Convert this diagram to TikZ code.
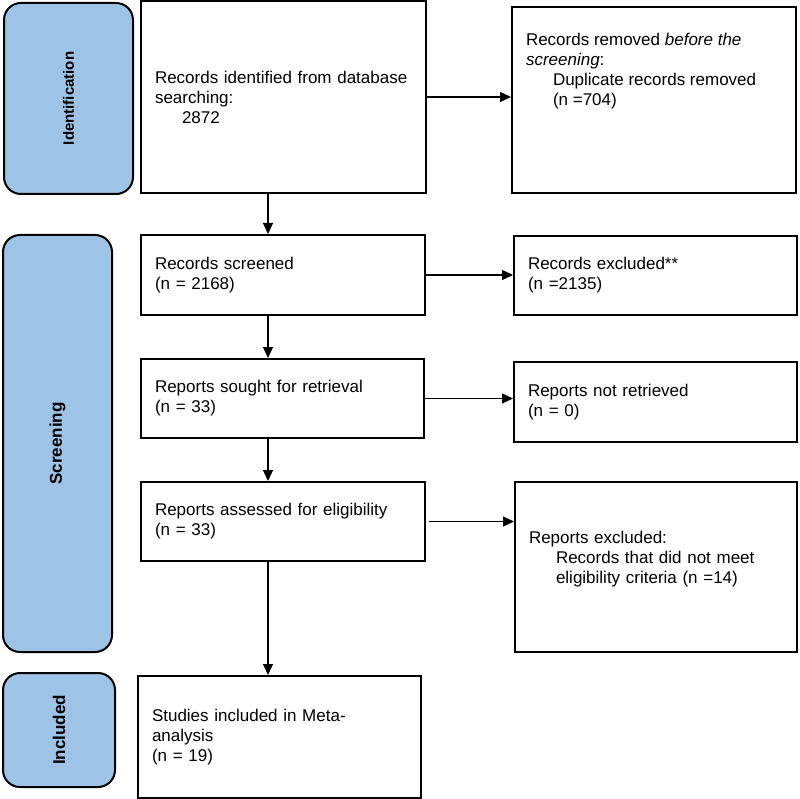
\documentclass[tikz,border=0pt]{standalone}
\usepackage{fontspec}
\setmainfont{Liberation Sans}
\usetikzlibrary{arrows.meta}
\definecolor{stageblue}{RGB}{157,195,230}

\begin{document}
\begin{tikzpicture}[x=1pt, y=-1pt, >={Triangle[length=11pt,width=10pt]},
	every node/.style={font=\fontsize{17}{20}\selectfont},
	recbox/.style={draw, line width=2pt, inner xsep=14pt, inner ysep=0pt, align=left},
	stagebox/.style={draw, line width=2pt, fill=stageblue, rounded corners=17pt, rotate=90},
	flow/.style={->, line width=1.2pt}]
	\useasboundingbox (0,0) rectangle (799,799);
	% stages on the left
	\node[stagebox, minimum width=191pt, minimum height=129pt, font=\fontsize{15}{18}\selectfont\bfseries] (idstage) at (68.5,98.5) {Identification};
	\node[stagebox, minimum width=417pt, minimum height=109pt, font=\fontsize{17}{20}\selectfont\bfseries] (scstage) at (57.5,443.5) {Screening};
	\node[stagebox, minimum width=114pt, minimum height=112pt, font=\fontsize{17}{20}\selectfont\bfseries] (instage) at (59,730) {Included};
	% main column
	\node[recbox, text width=257pt, minimum height=192pt] (ident) at (283.5,97) {Records identified from database\\searching:\\\hspace*{27pt}2872};
	\node[recbox, text width=256pt, minimum height=80pt] (screened) at (283,275) {Records screened\\(n = 2168)};
	\node[recbox, text width=255pt, minimum height=79pt] (sought) at (282.5,398.5) {Reports sought for retrieval\\(n = 33)};
	\node[recbox, text width=256pt, minimum height=79pt] (assessed) at (283,521.5) {Reports assessed for eligibility\\(n = 33)};
	\node[recbox, text width=255pt, minimum height=122pt] (incl) at (279.5,737) {Studies included in Meta-\\analysis\\(n = 19)};
	% side column
	\node[recbox, inner xsep=14pt] (removed) at (654,100) {\parbox[c][186pt][t]{256pt}{\vspace*{26pt}Records removed \textit{before the}\\\textit{screening}:\\\hspace*{27pt}Duplicate records removed\\\hspace*{27pt}(n =704)}};
	\node[recbox, text width=255pt, minimum height=79pt] (excl) at (655.5,275.5) {Records excluded**\\(n =2135)};
	\node[recbox, text width=255pt, minimum height=80pt] (notret) at (655.5,402) {Reports not retrieved\\(n = 0)};
	\node[recbox, text width=254pt, minimum height=170pt] (elig) at (656,567) {Reports excluded:\\\hspace*{27pt}Records that did not meet\\\hspace*{27pt}eligibility criteria (n =14)\\\mbox{}};
	% arrows
	\coordinate (spine) at (268,0);
	\draw[flow] (ident.south -| spine) -- (screened.north -| spine);
	\draw[flow] (screened.south -| spine) -- (sought.north -| spine);
	\draw[flow] (sought.south -| spine) -- (assessed.north -| spine);
	\draw[flow] (assessed.south -| spine) -- (incl.north -| spine);
	\draw[flow] (ident.east) -- (ident.east -| removed.west);
	\draw[flow] (screened.east) -- (screened.east -| excl.west);
	\draw[flow] (sought.east) -- (sought.east -| notret.west);
	\draw[flow] ([xshift=3pt]assessed.east) -- (assessed.east -| elig.west);
\end{tikzpicture}
\end{document}
